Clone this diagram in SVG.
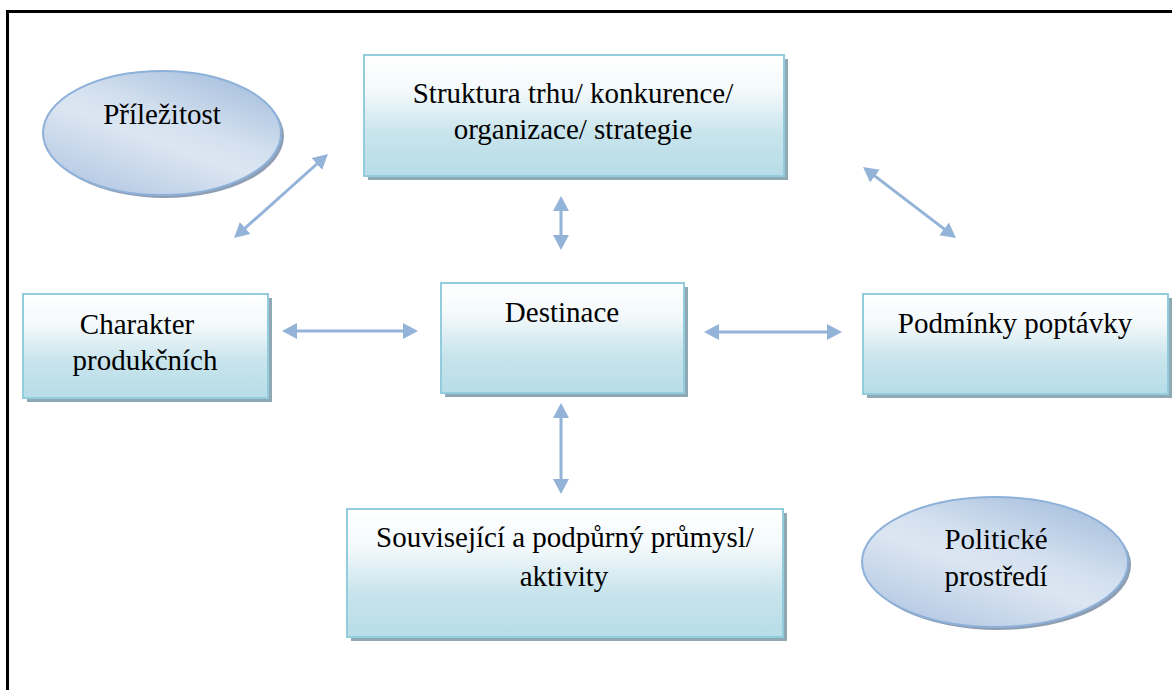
<svg xmlns="http://www.w3.org/2000/svg" width="1172" height="690" viewBox="0 0 1172 690">
<style>
  .box { fill: url(#boxGrad); stroke: #93cddd; stroke-width: 2; }
  .shadow { fill: #8fa9b4; }
  .ell { fill: url(#ellGrad); stroke: #8eb1da; stroke-width: 2; }
  .eshadow { fill: #8e9fb4; }
  .t { font-family: "Times New Roman", Times, "Liberation Serif", "Noto Serif", "DejaVu Serif", FreeSerif, Tinos, serif; font-size: 29px; fill: #000; text-anchor: middle; }
  .conn { stroke: #94b3d9; stroke-width: 3; fill: none; marker-start: url(#ah); marker-end: url(#ah); }
</style>
<defs>
  <linearGradient id="boxGrad" x1="0" y1="0" x2="0" y2="1">
    <stop offset="0" stop-color="#ffffff"/>
    <stop offset="0.3" stop-color="#f3f9fb"/>
    <stop offset="0.65" stop-color="#c8e4ec"/>
    <stop offset="1" stop-color="#b7dde8"/>
  </linearGradient>
  <linearGradient id="ellGrad" x1="0.15" y1="1" x2="0.85" y2="0">
    <stop offset="0" stop-color="#b1c6e2"/>
    <stop offset="0.45" stop-color="#dce6f2"/>
    <stop offset="0.6" stop-color="#d3e0ef"/>
    <stop offset="1" stop-color="#a3bcdc"/>
  </linearGradient>
  <marker id="ah" markerUnits="userSpaceOnUse" markerWidth="15" markerHeight="16" viewBox="0 0 15 16" refX="9" refY="8" orient="auto-start-reverse">
    <path d="M0,0 L15,8 L0,16 z" fill="#94b3d9"/>
  </marker>
</defs>
<rect width="1172" height="690" fill="#ffffff"/>
<rect x="7.5" y="11.5" width="1170" height="690" fill="none" stroke="#000" stroke-width="3"/>

<g id="prilezitost">
  <ellipse class="eshadow" cx="165" cy="136" rx="119" ry="62"/>
  <ellipse class="ell" cx="162" cy="133" rx="119" ry="62"/>
  <text class="t" x="162" y="124">Příležitost</text>
</g>

<g id="struktura">
  <rect class="shadow" x="368" y="59" width="420" height="121"/>
  <rect class="box" x="364" y="55" width="420" height="121"/>
  <text class="t" x="573" y="103">Struktura trhu/ konkurence/</text>
  <text class="t" x="573" y="139">organizace/ strategie</text>
</g>

<g id="charakter">
  <rect class="shadow" x="27" y="298" width="245" height="104"/>
  <rect class="box" x="23" y="294" width="245" height="104"/>
  <text class="t" x="137" y="334">Charakter</text>
  <text class="t" x="145" y="370">produkčních</text>
</g>

<g id="destinace">
  <rect class="shadow" x="445" y="287" width="243" height="110"/>
  <rect class="box" x="441" y="283" width="243" height="110"/>
  <text class="t" x="562" y="322">Destinace</text>
</g>

<g id="podminky">
  <rect class="shadow" x="867" y="298" width="305" height="100"/>
  <rect class="box" x="863" y="294" width="305" height="100"/>
  <text class="t" x="1015" y="333">Podmínky poptávky</text>
</g>

<g id="souvisejici">
  <rect class="shadow" x="351" y="513" width="436" height="128"/>
  <rect class="box" x="347" y="509" width="436" height="128"/>
  <text class="t" x="565" y="547">Související a podpůrný průmysl/</text>
  <text class="t" x="564" y="586">aktivity</text>
</g>

<g id="politicke">
  <ellipse class="eshadow" cx="998" cy="565" rx="133" ry="65"/>
  <ellipse class="ell" cx="995" cy="562" rx="133" ry="65"/>
  <text class="t" x="996" y="549">Politické</text>
  <text class="t" x="996" y="586">prostředí</text>
</g>

<g id="connectors">
  <line class="conn" x1="238.5" y1="234" x2="323.5" y2="158"/>
  <line class="conn" x1="867.8" y1="170.6" x2="951.2" y2="234.4"/>
  <line class="conn" x1="561" y1="202" x2="561" y2="244"/>
  <line class="conn" x1="561" y1="409" x2="561" y2="488"/>
  <line class="conn" x1="288" y1="331" x2="412" y2="331"/>
  <line class="conn" x1="710" y1="332" x2="836" y2="332"/>
</g>
</svg>
